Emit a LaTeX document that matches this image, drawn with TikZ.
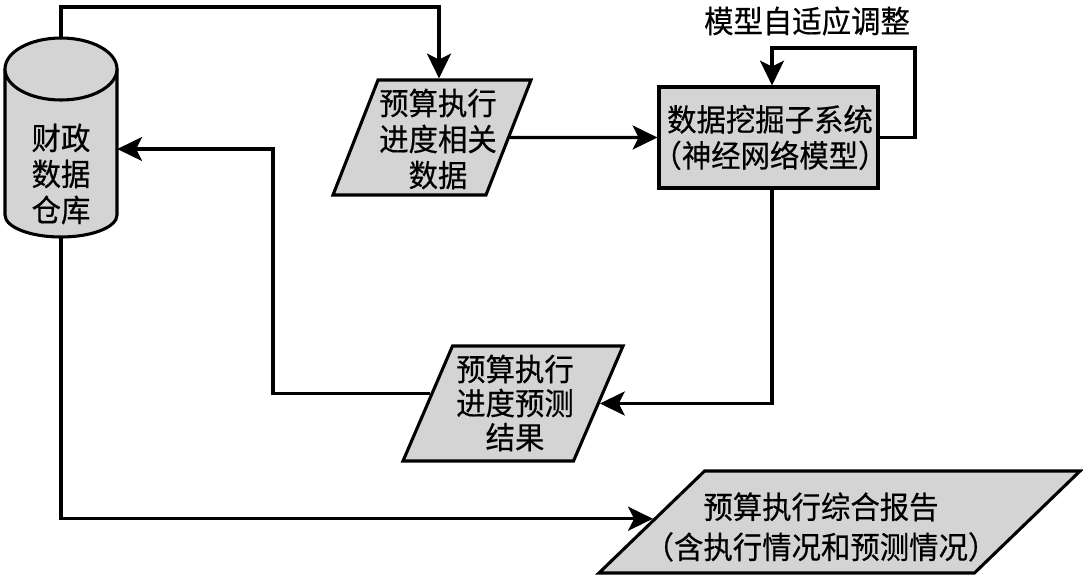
\documentclass[tikz,border=0pt]{standalone}
\usepackage{fontspec}
\newfontfamily\cjk[FakeStretch=0.95,FakeBold=0.4]{Noto Sans CJK SC}
\usetikzlibrary{arrows.meta,shapes.geometric,calc}
\definecolor{boxgray}{RGB}{212,212,212}
\begin{document}
\begin{tikzpicture}[x=0.025cm,y=-0.025cm,
  line/.style={line width=2.2pt},
  arr/.style={line, -{Stealth[length=0.62cm,width=0.6cm,inset=0.15cm]}},
  txt/.style={font=\cjk\fontsize{22pt}{25.6pt}\selectfont, align=center, inner sep=0pt},
  para/.style={trapezium, draw, fill=boxgray, line width=2.2pt, inner sep=0pt, trapezium stretches body=true},
]
\useasboundingbox (0,0) rectangle (1083,577);

% database cylinder
\node[minimum width=2.8cm, minimum height=4.975cm, inner sep=0pt] (db) at (61,137.5) {};
\draw[line, fill=boxgray] (5,69) -- (5,215) arc[start angle=180,end angle=0,x radius=56,y radius=22] -- (117,69);
\draw[line, fill=boxgray] (61,69) ellipse[x radius=56,y radius=31];
\node[txt] (dbt) at (61,174) {财政\\数据\\仓库};

% shapes
\node[para, trapezium left angle=68.6, trapezium right angle=111.4,
      minimum width=4.95cm] (p1) at (432,137.5) {\rule{0pt}{2.875cm}};
\node[txt] (p1t) at (438,139) {预算执行\\进度相关\\数据};
\node[draw, fill=boxgray, line width=2.2pt, minimum width=5.475cm, minimum height=2.525cm]
      (dm) at (768.5,137.5) {};
\node[txt] (dmt) at (770,137.5) {数据挖掘子系统\\（神经网络模型）};
\node[txt] (adj) at (807,21) {模型自适应调整};
\node[para, trapezium left angle=66.7, trapezium right angle=113.3,
      minimum width=5.5cm] (p2) at (513,403.5) {\rule{0pt}{2.875cm}};
\node[txt, font=\cjk\fontsize{22pt}{24.2pt}\selectfont] (p2t) at (515,403) {预算执行\\进度预测\\结果};
\node[para, trapezium left angle=44, trapezium right angle=136,
      minimum width=12.025cm] (p3) at (839.5,522) {\rule{0pt}{2.55cm}};
\node[txt, font=\cjk\fontsize{22pt}{28.5pt}\selectfont] (p3t) at (821,527) {预算执行综合报告\\（含执行情况和预测情况）};

% connectors
\coordinate (c1) at (439,7);
\draw[arr] (db.north) |- (c1) -- (c1 |- p1.north);
\draw[arr] (p1.east) -- (dm.west);
\coordinate (c2) at (915,48);
\coordinate (c2b) at (772,48);
\draw[arr] (dm.east) -| (c2) -- (c2b) -- (c2b |- dm.north);
\draw[arr] (c2b |- dm.south) |- (p2.east);
\coordinate (c4) at (273,149);
\draw[arr] (p2.173) -| (c4) -- (c4 -| db.east);
\draw[arr] (db.south) |- (p3.179);
\end{tikzpicture}
\end{document}
